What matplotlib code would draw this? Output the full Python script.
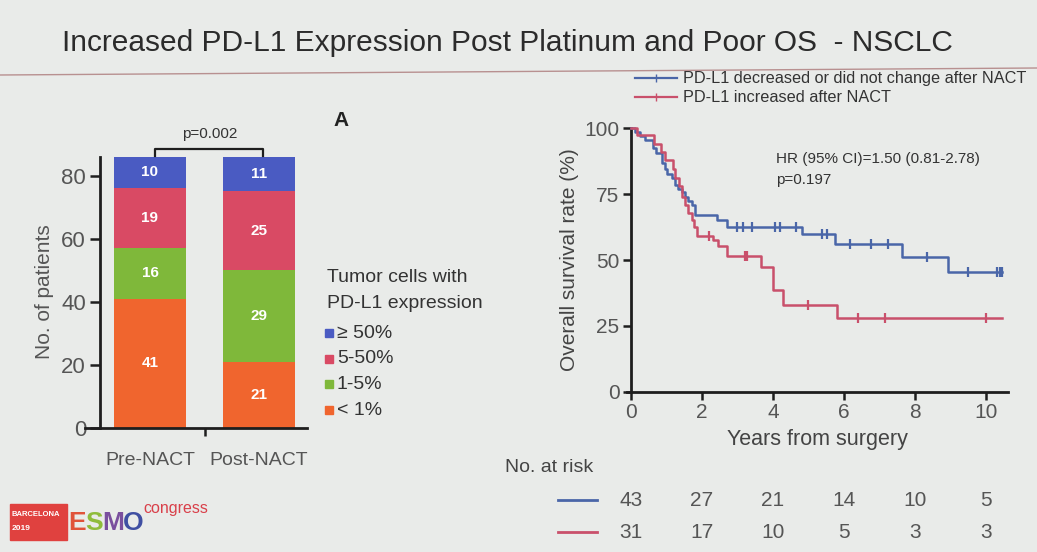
import matplotlib.pyplot as plt
import numpy as np

W, H = 1037, 552
BG = '#e9ebe9'
FONT = ['Liberation Sans', 'DejaVu Sans']
plt.rcParams['font.family'] = FONT

# ---- data: stacked bars
groups = ['Pre-NACT', 'Post-NACT']
cat_labels = ['\u2265 50%', '5-50%', '1-5%', '< 1%']
lt1 = [41, 21]
p1_5 = [16, 29]
p5_50 = [19, 25]
ge50 = [10, 11]
bar_colors = ['#f0652e', '#7fb83a', '#d94a64', '#4a5bc2']

# ---- data: Kaplan-Meier curves
blue_t = [0, 0.12, 0.26, 0.40, 0.63, 0.70, 0.87, 0.97, 1.01, 1.15, 1.25, 1.34,
          1.43, 1.53, 1.62, 1.72, 1.81, 2.42, 2.70, 4.81, 5.75, 7.62, 8.92]
blue_s = [100, 98.7, 97, 95.5, 92.5, 90.5, 87, 84.5, 82.5, 81, 78.5, 77,
          76, 74, 72.5, 71, 67, 65, 62.7, 60, 56, 51.3, 45.5]
blue_cens = [2.98, 3.17, 3.40, 4.06, 4.20, 4.65, 5.37, 5.51, 6.17, 6.76, 7.23,
             8.33, 9.48, 10.3, 10.38, 10.44]
red_t = [0, 0.17, 0.66, 0.85, 0.97, 1.18, 1.25, 1.36, 1.45, 1.52, 1.62, 1.72,
         1.78, 1.86, 2.32, 2.45, 2.70, 3.66, 4.01, 4.27, 5.79]
red_s = [100, 97.5, 94, 91, 88, 84.5, 81, 78, 74, 71, 68, 65.2,
         62.7, 59, 57.5, 55.2, 51.7, 47.5, 38.5, 33, 27.8]
red_cens = [2.20, 3.22, 3.28, 4.98, 6.38, 7.16, 10.0]
km_end = 10.44
risk_times = [0, 2, 4, 6, 8, 10]
risk_blue = [43, 27, 21, 14, 10, 5]
risk_red = [31, 17, 10, 5, 3, 3]
BLUE = '#4a66a8'
RED = '#c9506b'


def fx(x):
    return x / W


def fy(y):
    return 1 - y / H


fig = plt.figure(figsize=(W / 100, H / 100), dpi=100, facecolor=BG)

# title + underline
fig.text(fx(507), fy(43), 'Increased PD-L1 Expression Post Platinum and Poor OS  - NSCLC',
         ha='center', va='center', fontsize=21.5, color='#2b2b2b')
fig.add_artist(plt.Line2D([0, 1], [fy(75), fy(68)], color='#b89090', lw=1))

########## bar chart
ax1 = fig.add_axes([fx(85), 124 / H, (307 - 85) / W, (397 - 124) / H])
ax1.set_facecolor('none')
x = np.arange(len(groups))
bottom = np.zeros(2)
for vals, c in zip([lt1, p1_5, p5_50, ge50], bar_colors):
    ax1.bar(x, vals, width=0.66, bottom=bottom, color=c)
    for xi, v, b in zip(x, vals, bottom):
        ax1.text(xi, b + v / 2, str(v), ha='center', va='center', color='white',
                 fontsize=11, fontweight='bold')
    bottom += vals
ax1.set_xlim(-0.596, 1.44)
ax1.set_ylim(0, 86.5)
for s in ['top', 'right']:
    ax1.spines[s].set_visible(False)
ax1.spines['left'].set_position(('data', -0.459))
ax1.spines['left'].set_bounds(0, 86)
for s in ['left', 'bottom']:
    ax1.spines[s].set_linewidth(2)
    ax1.spines[s].set_color('#1e1e1e')
ax1.set_yticks([0, 20, 40, 60, 80])
ax1.tick_params(axis='y', length=7, width=1.8, color='#1e1e1e', labelsize=16,
                labelcolor='#555555', pad=3)
ax1.set_xticks(x)
ax1.set_xticklabels(groups)
ax1.tick_params(axis='x', length=0, labelsize=14, labelcolor='#555555', pad=17)
ax1.set_xticks([0.5], minor=True)
ax1.tick_params(axis='x', which='minor', length=6, width=1.8, color='#1e1e1e')
ax1.set_ylabel('No. of patients', fontsize=15, color='#555555', labelpad=5)

# bracket with p value
tot = bottom[0]
ax1.plot([0.05, 0.05, 1.04, 1.04], [tot + 0.3, tot + 2.5, tot + 2.5, tot + 0.3],
         color='#1e1e1e', lw=1.6, clip_on=False)
ax1.text(0.55, tot + 7.3, 'p=0.002', ha='center', va='center', fontsize=11,
         color='#333333')

fig.text(fx(341), fy(121), 'A', ha='center', va='center', fontsize=15,
         fontweight='bold', color='#222222')

# legend of PD-L1 categories
fig.text(fx(327), fy(278), 'Tumor cells with', ha='left', va='center',
         fontsize=14, color='#333333')
fig.text(fx(327), fy(304), 'PD-L1 expression', ha='left', va='center',
         fontsize=14, color='#333333')
for i, (lab, c) in enumerate(zip(cat_labels, bar_colors[::-1])):
    yy = 333 + i * 25.7
    fig.patches.append(plt.Rectangle((fx(325), fy(yy + 4)), 8 / W, 8 / H,
                                     transform=fig.transFigure, color=c))
    fig.text(fx(337), fy(yy), lab, ha='left', va='center', fontsize=14,
             color='#333333')

########## Kaplan-Meier
ax2 = fig.add_axes([fx(627), fy(391.7), (1008 - 627) / W, (391.7 - 128.3) / H])
ax2.set_facecolor('none')
ax2.set_xlim(-0.104, 10.61)
ax2.set_ylim(0, 100)


def km_draw(t, s, cens, color):
    tt = list(t) + [km_end]
    ss = list(s) + [s[-1]]
    ax2.step(tt, ss, where='post', color=color, lw=1.8, clip_on=False, zorder=3)
    idx = np.searchsorted(t, cens, side='right') - 1
    ax2.plot(cens, np.array(s)[idx], ls='none', marker='|', ms=7, mew=1.6,
             color=color, clip_on=False, zorder=4)


km_draw(blue_t, blue_s, blue_cens, BLUE)
km_draw(red_t, red_s, red_cens, RED)

for s in ['top', 'right']:
    ax2.spines[s].set_visible(False)
ax2.spines['left'].set_position(('data', 0))
for s in ['left', 'bottom']:
    ax2.spines[s].set_linewidth(2)
    ax2.spines[s].set_color('#1e1e1e')
ax2.set_xticks(risk_times)
ax2.set_yticks([0, 25, 50, 75, 100])
ax2.tick_params(length=6, width=1.8, color='#1e1e1e', labelsize=15,
                labelcolor='#555555', pad=2)
ax2.set_xlabel('Years from surgery', fontsize=15.5, color='#444444', labelpad=5)
ax2.set_ylabel('Overall survival rate (%)', fontsize=15, color='#444444',
               labelpad=4)
ax2.text(4.1, 88.5, 'HR (95% CI)=1.50 (0.81-2.78)', fontsize=11, color='#333333',
         ha='left', va='center')
ax2.text(4.1, 80.5, 'p=0.197', fontsize=11, color='#333333', ha='left',
         va='center')

# curve legend on top
for yy, col, lab in [(78, BLUE, 'PD-L1 decreased or did not change after NACT'),
                     (97, RED, 'PD-L1 increased after NACT')]:
    fig.add_artist(plt.Line2D([fx(635), fx(656), fx(677)], [fy(yy)] * 3,
                              color=col, lw=1.6, marker='|', markevery=[1], ms=6))
    fig.text(fx(683), fy(yy), lab, ha='left', va='center', fontsize=11.7,
             color='#333333')

# number at risk
fig.text(fx(505), fy(467), 'No. at risk', ha='left', va='center', fontsize=14,
         color='#444444')
trans = ax2.get_xaxis_transform()
for yy, col, nums in [(500, BLUE, risk_blue), (532, RED, risk_red)]:
    fig.add_artist(plt.Line2D([fx(558), fx(597)], [fy(yy), fy(yy)], color=col, lw=2))
    for t, n in zip(risk_times, nums):
        ax2.text(t, (391.7 - yy) / (391.7 - 128.3), str(n),
                 transform=trans, ha='center', va='center', fontsize=15,
                 color='#555555', clip_on=False)

# ESMO logo
fig.patches.append(plt.Rectangle((fx(10), fy(540)), 57 / W, 36 / H,
                                 transform=fig.transFigure, color='#e0413f'))
fig.text(fx(12), fy(514), 'BARCELONA', fontsize=5.5, color='white', ha='left',
         va='center', fontweight='bold')
fig.text(fx(12), fy(528), '2019', fontsize=6, color='white', ha='left',
         va='center', fontweight='bold')
for lx, ch, col in [(68, 'E', '#e0533a'), (85, 'S', '#8fbc3b'),
                    (102, 'M', '#7a4f9e'), (123, 'O', '#3f4fa2')]:
    fig.text(fx(lx), fy(523), ch, fontsize=19, color=col, ha='left', va='center',
             fontweight='bold')
fig.text(fx(143), fy(509), 'congress', fontsize=11.5, color='#d9404a', ha='left',
         va='center')

fig.savefig('out.png', dpi=100, facecolor=BG)
